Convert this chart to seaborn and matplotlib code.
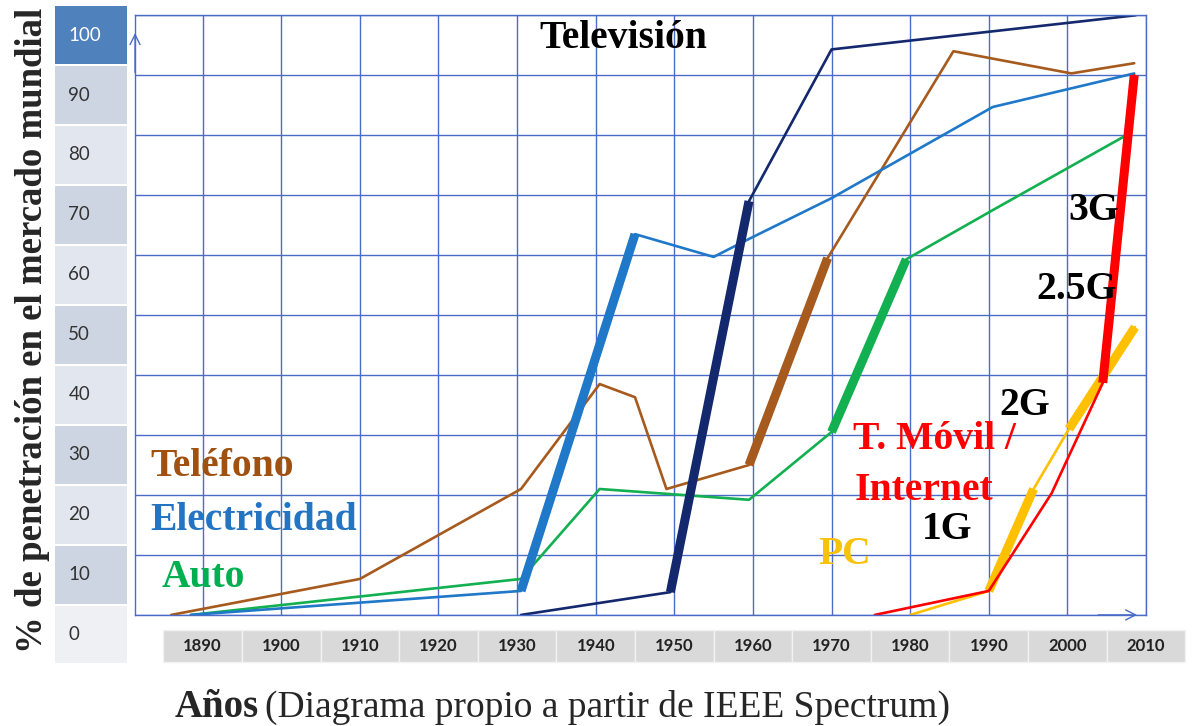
import matplotlib.pyplot as plt
import matplotlib.transforms as mtransforms
from matplotlib.patches import Rectangle
import seaborn as sns

sns.set_style("white")
plt.rcParams['font.family'] = ['Liberation Serif', 'DejaVu Serif']

# data (year, % penetration); thick = index ranges of the fast-growth stretch
tel_years = [1886, 1910, 1930.5, 1940.5, 1945, 1949, 1959.5, 1969.5, 1985.5, 2000.5, 2008.5]
tel_vals = [0, 6, 21, 38.5, 36.3, 21, 25, 59.5, 94, 90.3, 92]
tel_thick = [(6, 7)]

elec_years = [1888.5, 1930.5, 1945, 1955, 1959.5, 1970, 1990.5, 2008.5]
elec_vals = [0, 4, 63.5, 59.7, 62.7, 69.5, 84.7, 90.3]
elec_thick = [(1, 2)]

auto_years = [1888.5, 1930.5, 1940.5, 1959.5, 1970, 1979.5, 1990.5, 2007.5]
auto_vals = [0, 6, 21, 19.2, 30.5, 59.3, 67.5, 80]
auto_thick = [(4, 5)]

tv_years = [1930.5, 1949.5, 1959.5, 1970, 2008.7]
tv_vals = [0, 3.8, 69, 94.3, 100]
tv_thick = [(1, 2)]

movil_years = [1975.5, 1990, 1998, 2004.5, 2008.5]
movil_vals = [0, 4, 20.3, 38.7, 90]
movil_thick = [(3, 4)]

pc_years = [1980, 1990, 1995.7, 2000.2, 2008.6]
pc_vals = [0, 4, 21, 31, 48]
pc_thick = [(1, 2), (3, 4)]

decades = list(range(1890, 2011, 10))
xtick_labels = ['1890', '1900', '1910', '1920', '1930', '1940', '1950',
                '1960', '1970', '1980', '1990', '2000', '2010']
yticks = list(range(0, 101, 10))
ytick_labels = ['0', '10', '20', '30', '40', '50', '60', '70', '80', '90', '100']

series = [
    (tel_years, tel_vals, tel_thick, '#A65A1E'),
    (auto_years, auto_vals, auto_thick, '#12B050'),
    (elec_years, elec_vals, elec_thick, '#1F78C8'),
    (tv_years, tv_vals, tv_thick, '#14286E'),
    (pc_years, pc_vals, pc_thick, '#FFC000'),
    (movil_years, movil_vals, movil_thick, '#FF0000'),
]

grid_col = '#4a6cc8'

fig = plt.figure(figsize=(11.95, 7.26), dpi=100)
ax = fig.add_axes([0.113, 0.153, 0.846, 0.826])

for yrs, vals, thick, col in series:
    sns.lineplot(x=yrs, y=vals, color=col, lw=1.9, ax=ax, estimator=None, sort=False)
    for i0, i1 in thick:
        sns.lineplot(x=yrs[i0:i1 + 1], y=vals[i0:i1 + 1], color=col, lw=6.5, ax=ax,
                     estimator=None, sort=False, solid_capstyle='butt')

ax.set_xlim(1881.4, 2008.7)
ax.set_ylim(0, 100)
ax.set_xticks(decades)
ax.set_yticks(yticks)
ax.set_xticklabels([])
ax.set_yticklabels([])
ax.tick_params(length=0)
ax.grid(True, color=grid_col, lw=1)
ax.set_axisbelow(True)
for s in ax.spines.values():
    s.set_color(grid_col)
    s.set_linewidth(1)
ax.set_xlabel('')
ax.set_ylabel('')

# small axis arrows
ax.annotate('', xy=(0, 0.975), xytext=(0, 0.9), xycoords='axes fraction',
            arrowprops=dict(arrowstyle='->', color=grid_col, lw=1, mutation_scale=18))
ax.annotate('', xy=(0.994, 0), xytext=(0.95, 0), xycoords='axes fraction',
            arrowprops=dict(arrowstyle='->', color=grid_col, lw=1, mutation_scale=18))

# tick label boxes
tx = mtransforms.blended_transform_factory(ax.transData, ax.transAxes)
for d, lab in zip(decades, xtick_labels):
    ax.add_patch(Rectangle((d - 5, -0.078), 10, 0.053, transform=tx, clip_on=False,
                           facecolor='#d9d9d9', edgecolor='#f2f2f2', lw=1))
    ax.text(d, -0.052, lab, transform=tx, ha='center', va='center', fontsize=12,
            fontweight='bold', family='Lato', color='#222222', clip_on=False)

ty = mtransforms.blended_transform_factory(ax.transAxes, ax.transData)
for i, (v, lab) in enumerate(zip(yticks, ytick_labels)):
    c = v - 3.3
    if v == 100:
        fc, tc = '#4F81BD', 'white'
    elif v == 0:
        fc, tc = '#eef0f4', '#333333'
    else:
        fc = '#cdd5e3' if (v // 10) % 2 == 1 else '#e2e7ef'
        tc = '#333333'
    ax.add_patch(Rectangle((-0.079, c - 4.8), 0.071, 9.6, transform=ty, clip_on=False,
                           facecolor=fc, edgecolor='none'))
    ax.text(-0.066, c, lab, transform=ty, ha='left', va='center', fontsize=13.5,
            family='Lato', color=tc, clip_on=False)

# in-chart labels
labels = [
    (1943.5, 96.2, 'Televisión', 'black', 'center'),
    (1883.3, 24.8, 'Teléfono', '#A0500F', 'left'),
    (1883.3, 15.8, 'Electricidad', '#2474C4', 'left'),
    (1884.8, 6.2, 'Auto', '#00B050', 'left'),
    (1968.3, 10.0, 'PC', '#F8C10A', 'left'),
    (1972.7, 29.2, 'T. Móvil /', '#FF0000', 'left'),
    (1972.9, 20.8, 'Internet', '#FF0000', 'left'),
    (1981.5, 14.2, '1G', 'black', 'left'),
    (1991.3, 35.0, '2G', 'black', 'left'),
    (1996.0, 54.2, '2.5G', 'black', 'left'),
    (2000.1, 67.5, '3G', 'black', 'left'),
]
for x, y, s, col, ha in labels:
    ax.text(x, y, s, color=col, ha=ha, va='center', fontsize=28.5, fontweight='bold')

fig.text(33 / 1195, 1 - 330 / 726, '% de penetración en el mercado mundial', rotation=90,
         ha='center', va='center', fontsize=26.5, fontweight='bold')

t1 = fig.text(175 / 1195, 9 / 726, 'Años', ha='left', va='baseline', fontsize=28,
              fontweight='bold')
r = fig.canvas.get_renderer()
bb = t1.get_window_extent(r)
fig.text(bb.x1 / fig.bbox.width + 6 / 1195, 9 / 726,
         '(Diagrama propio a partir de IEEE Spectrum)', ha='left', va='baseline', fontsize=27)

fig.savefig('out.png', dpi=100, facecolor='white')
